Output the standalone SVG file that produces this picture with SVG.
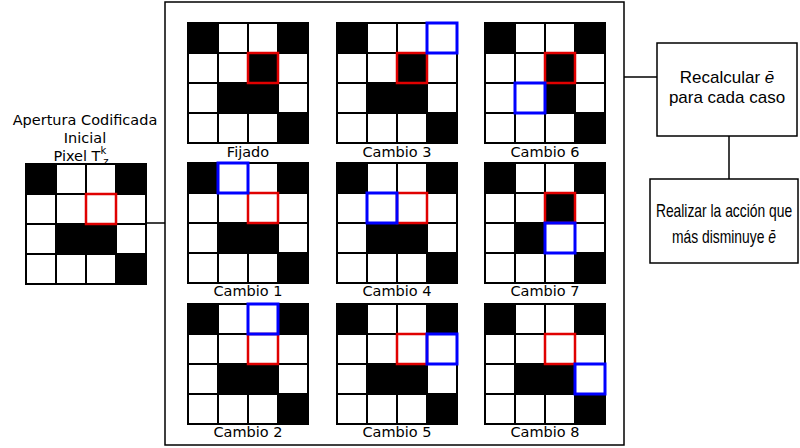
<svg xmlns="http://www.w3.org/2000/svg" xmlns:xlink="http://www.w3.org/1999/xlink" width="800" height="448" viewBox="0 0 800 448">
<style>
.bg{fill:#fff;stroke:none}
.b{fill:#000;stroke:none}
.gl{fill:none;stroke:#000;stroke-width:2}
.red{fill:none;stroke:#e00000;stroke-width:2.5}
.blue{fill:none;stroke:#0000ff;stroke-width:3}
.lbl{font-family:"DejaVu Sans",Verdana,sans-serif;font-size:14.5px;fill:#000;text-anchor:middle}
.rt{font-family:"Liberation Sans",Arial,sans-serif;font-size:17px;fill:#000;text-anchor:middle}
.rc{font-family:"Liberation Sans",Arial,sans-serif;font-size:18px;fill:#000;text-anchor:middle}
.box{fill:#fff;stroke:#000;stroke-width:1.5}
.con{fill:none;stroke:#000;stroke-width:1.5}
</style>
<defs>
<path id="lines" class="gl" d="M0,0H120V120H0Z M30,0V120 M60,0V120 M90,0V120 M0,30H120 M0,60H120 M0,90H120"/>
<rect id="bgr" class="bg" x="0" y="0" width="120" height="120"/>
</defs>
<rect width="800" height="448" fill="#fff"/>

<g id="connectors">
<line class="con" x1="146" y1="223" x2="165" y2="223"/>
<line class="con" x1="624" y1="77" x2="657" y2="77"/>
<line class="con" x1="729" y1="136" x2="729" y2="179"/>
</g>

<g id="main-box">
<rect x="165" y="2" width="459" height="443" fill="none" stroke="#000" stroke-width="1.5"/>
</g>

<g id="initial">
<text class="lbl" x="85" y="125">Apertura Codificada</text>
<text class="lbl" x="85" y="143">Inicial</text>
<text class="lbl" x="81" y="161">Pixel T<tspan font-size="10" dy="-7">k</tspan><tspan font-size="10" dx="-3" dy="11">z</tspan></text>
<g transform="translate(26,164)">
<use xlink:href="#bgr"/>
<rect class="b" x="0" y="0" width="30" height="30"/><rect class="b" x="90" y="0" width="30" height="30"/>
<rect class="b" x="30" y="60" width="60" height="30"/><rect class="b" x="90" y="90" width="30" height="30"/>
<use xlink:href="#lines"/>
<rect class="red" x="60" y="30" width="30" height="30"/>
</g>
</g>

<g id="fijado" transform="translate(188,23)">
<use xlink:href="#bgr"/>
<rect class="b" x="0" y="0" width="30" height="30"/><rect class="b" x="90" y="0" width="30" height="30"/>
<rect class="b" x="60" y="30" width="30" height="30"/>
<rect class="b" x="30" y="60" width="60" height="30"/><rect class="b" x="90" y="90" width="30" height="30"/>
<use xlink:href="#lines"/>
<rect class="red" x="60" y="30" width="30" height="30"/>
<text class="lbl" x="60" y="134">Fijado</text>
</g>

<g id="cambio3" transform="translate(337,23)">
<use xlink:href="#bgr"/>
<rect class="b" x="0" y="0" width="30" height="30"/>
<rect class="b" x="60" y="30" width="30" height="30"/>
<rect class="b" x="30" y="60" width="60" height="30"/><rect class="b" x="90" y="90" width="30" height="30"/>
<use xlink:href="#lines"/>
<rect class="red" x="60" y="30" width="30" height="30"/>
<rect class="blue" x="90" y="0" width="30" height="30"/>
<text class="lbl" x="60" y="134">Cambio 3</text>
</g>

<g id="cambio6" transform="translate(485,23)">
<use xlink:href="#bgr"/>
<rect class="b" x="0" y="0" width="30" height="30"/><rect class="b" x="90" y="0" width="30" height="30"/>
<rect class="b" x="60" y="30" width="30" height="30"/>
<rect class="b" x="60" y="60" width="30" height="30"/><rect class="b" x="90" y="90" width="30" height="30"/>
<use xlink:href="#lines"/>
<rect class="red" x="60" y="30" width="30" height="30"/>
<rect class="blue" x="30" y="60" width="30" height="30"/>
<text class="lbl" x="60" y="134">Cambio 6</text>
</g>

<g id="cambio1" transform="translate(188,163)">
<use xlink:href="#bgr"/>
<rect class="b" x="0" y="0" width="30" height="30"/><rect class="b" x="90" y="0" width="30" height="30"/>
<rect class="b" x="30" y="60" width="60" height="30"/><rect class="b" x="90" y="90" width="30" height="30"/>
<use xlink:href="#lines"/>
<rect class="red" x="60" y="30" width="30" height="30"/>
<rect class="blue" x="30" y="0" width="30" height="30"/>
<text class="lbl" x="60" y="133">Cambio 1</text>
</g>

<g id="cambio4" transform="translate(337,163)">
<use xlink:href="#bgr"/>
<rect class="b" x="0" y="0" width="30" height="30"/><rect class="b" x="90" y="0" width="30" height="30"/>
<rect class="b" x="30" y="60" width="60" height="30"/><rect class="b" x="90" y="90" width="30" height="30"/>
<use xlink:href="#lines"/>
<rect class="red" x="60" y="30" width="30" height="30"/>
<rect class="blue" x="30" y="30" width="30" height="30"/>
<text class="lbl" x="60" y="133">Cambio 4</text>
</g>

<g id="cambio7" transform="translate(485,163)">
<use xlink:href="#bgr"/>
<rect class="b" x="0" y="0" width="30" height="30"/><rect class="b" x="90" y="0" width="30" height="30"/>
<rect class="b" x="60" y="30" width="30" height="30"/>
<rect class="b" x="30" y="60" width="30" height="30"/><rect class="b" x="90" y="90" width="30" height="30"/>
<use xlink:href="#lines"/>
<rect class="red" x="60" y="30" width="30" height="30"/>
<rect class="blue" x="60" y="60" width="30" height="30"/>
<text class="lbl" x="60" y="133">Cambio 7</text>
</g>

<g id="cambio2" transform="translate(188,304)">
<use xlink:href="#bgr"/>
<rect class="b" x="0" y="0" width="30" height="30"/><rect class="b" x="90" y="0" width="30" height="30"/>
<rect class="b" x="30" y="60" width="60" height="30"/><rect class="b" x="90" y="90" width="30" height="30"/>
<use xlink:href="#lines"/>
<rect class="red" x="60" y="30" width="30" height="30"/>
<rect class="blue" x="60" y="0" width="30" height="30"/>
<text class="lbl" x="60" y="133">Cambio 2</text>
</g>

<g id="cambio5" transform="translate(337,304)">
<use xlink:href="#bgr"/>
<rect class="b" x="0" y="0" width="30" height="30"/><rect class="b" x="90" y="0" width="30" height="30"/>
<rect class="b" x="30" y="60" width="60" height="30"/><rect class="b" x="90" y="90" width="30" height="30"/>
<use xlink:href="#lines"/>
<rect class="red" x="60" y="30" width="30" height="30"/>
<rect class="blue" x="90" y="30" width="30" height="30"/>
<text class="lbl" x="60" y="133">Cambio 5</text>
</g>

<g id="cambio8" transform="translate(485,304)">
<use xlink:href="#bgr"/>
<rect class="b" x="0" y="0" width="30" height="30"/><rect class="b" x="90" y="0" width="30" height="30"/>
<rect class="b" x="30" y="60" width="60" height="30"/><rect class="b" x="90" y="90" width="30" height="30"/>
<use xlink:href="#lines"/>
<rect class="red" x="60" y="30" width="30" height="30"/>
<rect class="blue" x="90" y="60" width="30" height="30"/>
<text class="lbl" x="60" y="133">Cambio 8</text>
</g>

<g id="recalcular">
<rect class="box" x="657" y="43" width="140" height="93"/>
<text class="rt" x="727" y="83">Recalcular <tspan font-style="italic">ē</tspan></text>
<text class="rt" x="727" y="103">para cada caso</text>
</g>

<g id="realizar">
<rect class="box" x="650" y="179" width="148" height="84"/>
<g transform="translate(724,0) scale(0.77,1)">
<text class="rc" x="0" y="217">Realizar la acción que</text>
<text class="rc" x="0" y="243">más disminuye <tspan font-style="italic">ē</tspan></text>
</g>
</g>
</svg>
